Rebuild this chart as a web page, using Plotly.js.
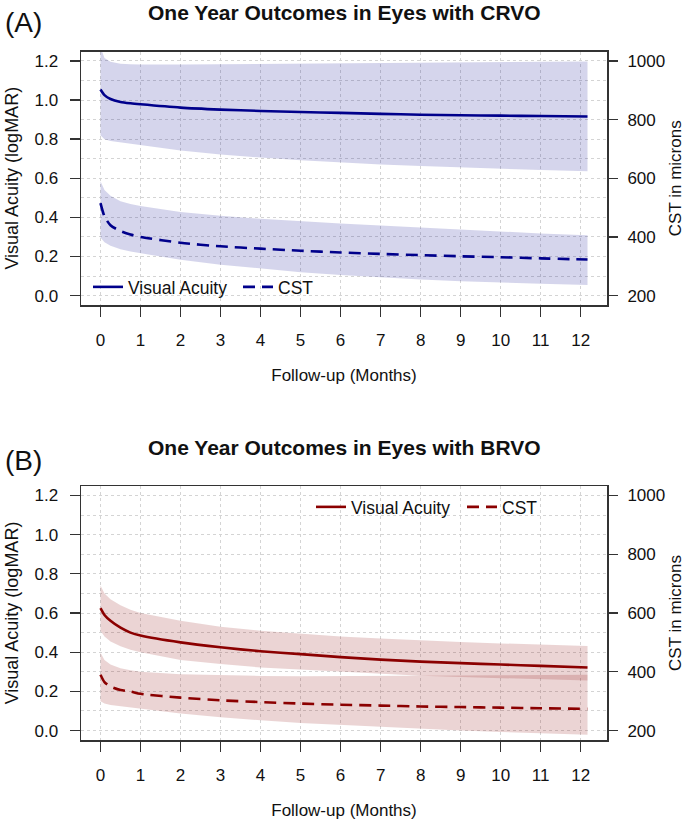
<!DOCTYPE html>
<html>
<head>
<meta charset="utf-8">
<script src="https://cdn.plot.ly/plotly-3.0.1.min.js"></script>
<style>html,body{margin:0;padding:0;background:#fff;}#chart{width:685px;height:825px;}</style>
</head>
<body>
<div id="chart"></div>
<script>
// ---- data ----
const months = [0, 0.1, 0.25, 0.5, 0.75, 1, 2, 3, 4, 5, 6, 7, 8, 9, 10, 11, 12.17];
const monthTicks = [0,1,2,3,4,5,6,7,8,9,10,11,12];
const vaTicks = [0, 0.2, 0.4, 0.6, 0.8, 1.0, 1.2];
const vaTickText = ['0.0','0.2','0.4','0.6','0.8','1.0','1.2'];
const cstTicks = [200, 400, 600, 800, 1000];

// Panel A: CRVO
const crvoVA      = [1.054, 1.025, 1.005, 0.990, 0.983, 0.978, 0.961, 0.951, 0.944, 0.939, 0.934, 0.929, 0.925, 0.922, 0.920, 0.918, 0.916];
const crvoVAUpper = [1.270, 1.215, 1.195, 1.186, 1.183, 1.182, 1.182, 1.183, 1.184, 1.186, 1.187, 1.189, 1.190, 1.192, 1.193, 1.195, 1.197];
const crvoVALower = [0.820, 0.800, 0.790, 0.782, 0.778, 0.768, 0.742, 0.722, 0.706, 0.692, 0.680, 0.670, 0.662, 0.655, 0.648, 0.642, 0.636];
const crvoCST      = [515, 470, 440, 420, 408, 400, 380, 368, 360, 353, 347, 342, 338, 334, 331, 327, 323];
const crvoCSTUpper = [590, 560, 540, 522, 512, 505, 485, 472, 462, 453, 446, 439, 432, 425, 419, 412, 406];
const crvoCSTLower = [398, 382, 370, 358, 350, 343, 322, 305, 292, 280, 270, 262, 255, 249, 244, 240, 236];

// Panel B: BRVO
const brvoVA      = [0.625, 0.590, 0.560, 0.525, 0.500, 0.485, 0.450, 0.425, 0.405, 0.390, 0.375, 0.362, 0.352, 0.344, 0.337, 0.330, 0.322];
const brvoVAUpper = [0.740, 0.700, 0.670, 0.640, 0.617, 0.600, 0.560, 0.530, 0.510, 0.495, 0.480, 0.470, 0.460, 0.452, 0.445, 0.438, 0.432];
const brvoVALower = [0.510, 0.480, 0.455, 0.430, 0.413, 0.400, 0.360, 0.340, 0.322, 0.310, 0.300, 0.290, 0.280, 0.273, 0.267, 0.261, 0.256];
const brvoCST      = [390, 365, 350, 338, 333, 325, 312, 303, 297, 292, 288, 285, 282, 280, 278, 276, 274];
const brvoCSTUpper = [465, 440, 425, 412, 405, 400, 392, 388, 386, 385, 385, 385, 386, 387, 388, 389, 390];
const brvoCSTLower = [300, 292, 287, 281, 277, 274, 258, 245, 235, 226, 218, 212, 206, 200, 195, 190, 186];

// ---- styling ----
const blue = '#00008B', blueFill = 'rgba(0,0,139,0.165)';
const red = '#8B0000', redFill = 'rgba(139,0,0,0.17)';
const FONT = 'Liberation Sans, Arial, Helvetica, sans-serif';
const gridCol = '#d4d4d4';
const dashPat = '12px,7px';
const TXT = '#111';

function band(xs, up, lo, xa, ya, fill) {
  return {
    x: xs.concat(xs.slice().reverse()),
    y: up.concat(lo.slice().reverse()),
    xaxis: xa, yaxis: ya, type: 'scatter', mode: 'lines',
    fill: 'toself', fillcolor: fill, line: {width: 0, color: fill},
    hoverinfo: 'skip', showlegend: false
  };
}
function line(xs, ys, xa, ya, color, dash, name, leg) {
  return {
    x: xs, y: ys, xaxis: xa, yaxis: ya, type: 'scatter', mode: 'lines', name: name,
    line: {color: color, width: 2.6, dash: dash, shape: 'spline', smoothing: 0.7},
    legend: leg, showlegend: true
  };
}

const data = [
  band(months, crvoVAUpper, crvoVALower, 'x', 'y', blueFill),
  band(months, crvoCSTUpper, crvoCSTLower, 'x', 'y2', blueFill),
  line(months, crvoVA, 'x', 'y', blue, 'solid', 'Visual Acuity', 'legend'),
  line(months, crvoCST, 'x', 'y2', blue, dashPat, 'CST', 'legend2'),
  band(months, brvoVAUpper, brvoVALower, 'x2', 'y3', redFill),
  band(months, brvoCSTUpper, brvoCSTLower, 'x2', 'y4', redFill),
  line(months, brvoVA, 'x2', 'y3', red, 'solid', 'Visual Acuity', 'legend3'),
  line(months, brvoCST, 'x2', 'y4', red, dashPat, 'CST', 'legend4')
];

const W = 685, H = 825;
const xDom = [81 / W, 607 / W];
const domA = [1 - 305 / H, 1 - 51.5 / H];
const domB = [1 - 740 / H, 1 - 486 / H];

function xAxis(anchor) {
  return {
    domain: xDom, anchor: anchor, range: [-0.487, 12.657],
    tickmode: 'array', tickvals: monthTicks,
    ticks: 'outside', ticklen: 10, tickwidth: 1.3, tickcolor: '#333',
    ticklabelstandoff: 9,
    showline: true, linecolor: '#333', linewidth: 1.5, mirror: true,
    showgrid: true, gridcolor: gridCol, griddash: 'dot', gridwidth: 1,
    zeroline: false, tickfont: {size: 17, color: TXT, family: FONT},
    title: {text: 'Follow-up (Months)', font: {size: 17, color: TXT, family: FONT}, standoff: 20}
  };
}
function yLeft(anchor, dom) {
  return {
    domain: dom, anchor: anchor, range: [-0.048, 1.248],
    tickmode: 'array', tickvals: vaTicks, ticktext: vaTickText,
    ticks: 'outside', ticklen: 10, tickwidth: 1.3, tickcolor: '#333',
    ticklabelstandoff: 8,
    showline: true, linecolor: '#333', linewidth: 1.5, mirror: true,
    showgrid: true, gridcolor: gridCol, griddash: 'dot', gridwidth: 1,
    minor: {dtick: 0.1, tick0: 0, showgrid: true, gridcolor: gridCol, griddash: 'dot', gridwidth: 1},
    zeroline: false, tickfont: {size: 17, color: TXT, family: FONT},
    title: {text: 'Visual Acuity (logMAR)', font: {size: 18, color: TXT, family: FONT}, standoff: 11}
  };
}
function yRight(over, anchor) {
  return {
    overlaying: over, anchor: anchor, side: 'right', range: [168, 1032],
    tickmode: 'array', tickvals: cstTicks,
    ticks: 'outside', ticklen: 10, tickwidth: 1.3, tickcolor: '#333',
    ticklabelstandoff: 6,
    showline: false, showgrid: false, zeroline: false,
    tickfont: {size: 17, color: TXT, family: FONT},
    title: {text: 'CST in microns', font: {size: 17, color: TXT, family: FONT}, standoff: 14}
  };
}
function legendAt(px, py) {
  return {
    orientation: 'h', x: px / W, xanchor: 'left', y: 1 - py / H, yanchor: 'middle',
    bgcolor: 'rgba(0,0,0,0)', font: {size: 17.5, family: FONT, color: TXT},
    itemwidth: 30, tracegroupgap: 0
  };
}

const layout = {
  width: W, height: H,
  margin: {l: 0, r: 0, t: 0, b: 0},
  paper_bgcolor: '#fff', plot_bgcolor: '#fff',
  font: {family: FONT, color: TXT},
  xaxis: xAxis('y'),
  yaxis: yLeft('x', domA),
  yaxis2: yRight('y', 'x'),
  xaxis2: xAxis('y3'),
  yaxis3: yLeft('x2', domB),
  yaxis4: yRight('y3', 'x2'),
  legend: legendAt(88, 287),
  legend2: legendAt(238, 287),
  legend3: legendAt(311, 507),
  legend4: legendAt(462, 507),
  annotations: [
    {text: '<b>One Year Outcomes in Eyes with CRVO</b>', xref: 'paper', yref: 'paper',
     x: 344 / W, y: 1 - 13 / H, xanchor: 'center', yanchor: 'middle', showarrow: false,
     font: {size: 21, family: FONT, color: TXT}},
    {text: '(A)', xref: 'paper', yref: 'paper', x: 3 / W, y: 1 - 23 / H,
     xanchor: 'left', yanchor: 'middle', showarrow: false,
     font: {size: 28, family: FONT, color: TXT}},
    {text: '<b>One Year Outcomes in Eyes with BRVO</b>', xref: 'paper', yref: 'paper',
     x: 344 / W, y: 1 - 447 / H, xanchor: 'center', yanchor: 'middle', showarrow: false,
     font: {size: 21, family: FONT, color: TXT}},
    {text: '(B)', xref: 'paper', yref: 'paper', x: 3 / W, y: 1 - 460 / H,
     xanchor: 'left', yanchor: 'middle', showarrow: false,
     font: {size: 28, family: FONT, color: TXT}}
  ]
};

Plotly.newPlot('chart', data, layout, {displayModeBar: false, staticPlot: true});
</script>
</body>
</html>
